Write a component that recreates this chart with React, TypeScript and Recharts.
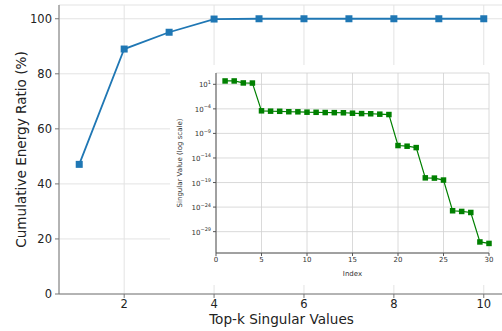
import React from 'react';
import { LineChart, Line, XAxis, YAxis, CartesianGrid, Label } from 'recharts';

// main plot: cumulative energy vs top-k
const topK = [1, 2, 3, 4, 5, 6, 7, 8, 9, 10];
const energyRatio = [47.1, 89.0, 95.1, 99.9, 100, 100, 100, 100, 100, 100];
const mainXTicks = [2, 4, 6, 8, 10];
const mainYTicks = [0, 20, 40, 60, 80, 100];

// inset: singular values (log scale)
const svIndex = [
  1, 2, 3, 4, 5, 6, 7, 8, 9, 10, 11, 12, 13, 14, 15,
  16, 17, 18, 19, 20, 21, 22, 23, 24, 25, 26, 27, 28, 29, 30,
];
const singularValues = [
  48, 48, 19, 18,
  4.0e-5, 3.4e-5, 3.2e-5, 2.6e-5, 2.5e-5, 2.1e-5, 2.0e-5, 1.8e-5, 1.7e-5, 1.6e-5, 1.3e-5,
  1.1e-5, 1.0e-5, 8.3e-6, 7.0e-6,
  3.4e-12, 2.5e-12, 1.3e-12,
  9.0e-19, 8.0e-19, 3.2e-19,
  1.8e-25, 1.3e-25, 8.0e-26,
  8.0e-32, 4.0e-32,
];
const insetXTicks = [0, 5, 10, 15, 20, 25, 30];
const insetYTicks = [1e1, 1e-4, 1e-9, 1e-14, 1e-19, 1e-24, 1e-29];

const mainData = topK.map((k, i) => ({ k, ratio: energyRatio[i] }));
const insetData = svIndex.map((idx, i) => ({ idx, sv: singularValues[i] }));

const FONT = '"DejaVu Sans", sans-serif';
const BLUE = '#1f77b4';
const GREEN = '#008000';

const Square = (size: number, color: string) => (props: any) => {
  const { cx, cy, index } = props;
  if (cx == null || cy == null) return <g key={`d-${index}`} />;
  return <rect key={`d-${index}`} x={cx - size / 2} y={cy - size / 2} width={size} height={size} fill={color} />;
};

const LogTick = (props: any) => {
  const { x, y, payload } = props;
  const exp = Math.round(Math.log10(payload.value));
  const expText = exp < 0 ? '\u2212' + String(-exp) : String(exp);
  return (
    <text x={x} y={y} dy={3} textAnchor="end" fontSize={7} fill="#333" fontFamily={FONT}>
      10<tspan dy={-3.5} fontSize={5}>{expText}</tspan>
    </text>
  );
};

const App: React.FC = () => {
  return (
    <div style={{ position: 'absolute', left: 0, top: 0, width: 502, height: 331, overflow: 'hidden', background: '#fff', fontFamily: FONT }}>
      <LineChart width={520} height={331} data={mainData} margin={{ top: 5, right: 16, left: 0, bottom: 0 }}>
        <CartesianGrid stroke="#e3e3e3" strokeWidth={1} />
        <XAxis
          dataKey="k"
          type="number"
          domain={[0.55, 10.45]}
          ticks={mainXTicks}
          height={37}
          tickSize={4}
          tickMargin={2}
          stroke="#777"
          tick={{ fill: '#222', fontSize: 11.5, fontFamily: FONT }}
        >
          <Label value="Top-k Singular Values" position="insideBottom" offset={7} style={{ fill: '#222', fontSize: 13.6, fontFamily: FONT }} />
        </XAxis>
        <XAxis xAxisId="top" orientation="top" type="number" domain={[0, 1]} height={0} tick={false} tickLine={false} stroke="#777" />
        <YAxis
          type="number"
          domain={[0, 105]}
          ticks={mainYTicks}
          width={59}
          tickSize={4}
          tickMargin={3}
          stroke="#777"
          tick={{ fill: '#222', fontSize: 11.5, fontFamily: FONT }}
        >
          <Label value="Cumulative Energy Ratio (%)" angle={-90} position="insideLeft" offset={21} style={{ fill: '#222', fontSize: 13.6, fontFamily: FONT, textAnchor: 'middle' }} />
        </YAxis>
        <Line
          dataKey="ratio"
          stroke={BLUE}
          strokeWidth={1.8}
          dot={Square(7, BLUE)}
          activeDot={false}
          isAnimationActive={false}
        />
      </LineChart>

      <div style={{ position: 'absolute', left: 170, top: 65, width: 340, height: 220, background: '#fff' }}>
        <LineChart width={340} height={220} data={insetData} margin={{ top: 8, right: 21, left: 0, bottom: 0 }}>
          <CartesianGrid stroke="#d0d0d0" strokeWidth={0.8} />
          <XAxis
            dataKey="idx"
            type="number"
            domain={[0, 30]}
            ticks={insetXTicks}
            height={32}
            tickSize={3}
            tickMargin={1}
            stroke="#555"
            tick={{ fill: '#333', fontSize: 7, fontFamily: FONT }}
          >
            <Label value="Index" position="insideBottom" offset={9} style={{ fill: '#333', fontSize: 7, fontFamily: FONT }} />
          </XAxis>
          <XAxis xAxisId="top" orientation="top" type="number" domain={[0, 1]} height={0} tick={false} tickLine={false} stroke="#555" />
          <YAxis
            dataKey="sv"
            type="number"
            scale="log"
            domain={[4.5e-34, 2000]}
            allowDataOverflow
            ticks={insetYTicks}
            width={46}
            tickSize={3}
            tickMargin={2}
            stroke="#555"
            tick={LogTick}
          >
            <Label value="Singular Value (log scale)" angle={-90} position="insideLeft" offset={10} style={{ fill: '#333', fontSize: 7, fontFamily: FONT, textAnchor: 'middle' }} />
          </YAxis>
          <YAxis yAxisId="right" orientation="right" type="number" domain={[0, 1]} width={0} tick={false} tickLine={false} stroke="#555" />
          <Line
            dataKey="sv"
            stroke={GREEN}
            strokeWidth={1.2}
            dot={Square(5.5, GREEN)}
            activeDot={false}
            isAnimationActive={false}
          />
        </LineChart>
      </div>
    </div>
  );
};

export default App;
